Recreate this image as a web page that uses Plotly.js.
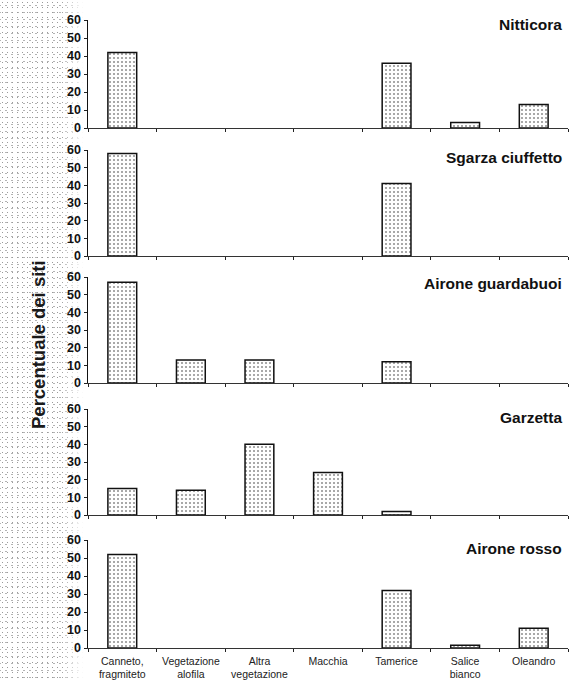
<!DOCTYPE html>
<html>
<head>
<meta charset="utf-8">
<script src="https://cdn.plot.ly/plotly-3.0.1.min.js"></script>
<style>
  html, body { margin: 0; padding: 0; background: #ffffff; }
  #wrap { position: relative; width: 570px; height: 681px; overflow: hidden; }
  #stipple {
    position: absolute; left: 0; top: 0; width: 110px; height: 681px;
    background-image: radial-gradient(circle, #9a9a9a 0.55px, rgba(255,255,255,0) 0.95px),
                      radial-gradient(circle, #b4b4b4 0.5px, rgba(255,255,255,0) 0.9px);
    background-size: 5px 5px, 6px 7px;
    background-position: 0 0, 3px 2px;
    -webkit-mask-image: linear-gradient(to right, #000 0px, #000 60px, rgba(0,0,0,0) 84px);
    mask-image: linear-gradient(to right, #000 0px, #000 60px, rgba(0,0,0,0) 84px);
  }
  #chart { position: absolute; left: 0; top: 0; width: 570px; height: 681px; }
</style>
</head>
<body>
<div id="wrap">
  <div id="stipple"></div>
  <div id="chart"></div>
</div>
<script>
// ---- Data (percentage of sites) ----
const categories = ['Canneto, fragmiteto', 'Vegetazione alofila', 'Altra vegetazione', 'Macchia', 'Tamerice', 'Salice bianco', 'Oleandro'];
const tickLabels = ['Canneto,<br>fragmiteto', 'Vegetazione<br>alofila', 'Altra<br>vegetazione', 'Macchia', 'Tamerice', 'Salice<br>bianco', 'Oleandro'];
const species = ['Nitticora', 'Sgarza ciuffetto', 'Airone guardabuoi', 'Garzetta', 'Airone rosso'];
const nitticora = [42, 0, 0, 0, 36, 3, 13];
const sgarzaCiuffetto = [58, 0, 0, 0, 41, 0, 0];
const aironeGuardabuoi = [57, 13, 13, 0, 12, 0, 0];
const garzetta = [15, 14, 40, 24, 2, 0, 0];
const aironeRosso = [52, 0, 0, 0, 32, 1.5, 11];
const yTicks = [0, 10, 20, 30, 40, 50, 60];
const yTitle = 'Percentuale dei siti';

const seriesList = [nitticora, sgarzaCiuffetto, aironeGuardabuoi, garzetta, aironeRosso];

// ---- Layout geometry (pixels) ----
const W = 570, H = 681;
const panelPx = [[20, 128], [150, 256], [277, 383], [409, 515], [540, 648]]; // [top(60), bottom(0)]
const xLeft = 88, xRight = 568;
const titleY = [25, 157, 283, 417, 548];

const traces = [];
const layout = {
  width: W, height: H,
  margin: {l: 0, r: 0, t: 0, b: 0},
  paper_bgcolor: 'rgba(0,0,0,0)',
  plot_bgcolor: 'rgba(0,0,0,0)',
  showlegend: false,
  font: {family: 'Liberation Sans, Arial, sans-serif', color: '#111'},
  annotations: []
};

seriesList.forEach((vals, i) => {
  const n = i + 1;
  const xa = n === 1 ? 'xaxis' : 'xaxis' + n;
  const ya = n === 1 ? 'yaxis' : 'yaxis' + n;
  traces.push({
    type: 'bar',
    x: categories,
    y: vals,
    xaxis: 'x' + (n === 1 ? '' : n),
    yaxis: 'y' + (n === 1 ? '' : n),
    width: 0.42,
    marker: {
      color: '#ffffff',
      line: {color: '#111', width: vals.map(v => v > 0 ? 1.5 : 0)},
      pattern: {shape: '.', fgcolor: '#8c8c8c', bgcolor: '#ffffff', size: 4, solidity: 0.2}
    },
    hoverinfo: 'x+y'
  });
  const [top, bot] = panelPx[i];
  layout[ya] = {
    domain: [1 - bot / H, 1 - top / H],
    range: [0, 60],
    anchor: 'x' + (n === 1 ? '' : n),
    tickvals: yTicks,
    ticktext: yTicks.map(String),
    ticks: 'outside', ticklen: 3, tickwidth: 1, tickcolor: '#222',
    showline: true, linecolor: '#111', linewidth: 1.5,
    showgrid: false, zeroline: false,
    tickfont: {family: 'Liberation Sans, Arial, sans-serif', size: 12.5, color: '#111', weight: 'bold'},
    fixedrange: true
  };
  layout[xa] = {
    domain: [xLeft / W, xRight / W],
    anchor: 'y' + (n === 1 ? '' : n),
    type: 'category',
    categoryorder: 'array', categoryarray: categories,
    range: [-0.5, 6.5],
    tickvals: categories,
    ticktext: tickLabels,
    tickson: 'boundaries',
    ticks: 'outside', ticklen: 3, tickwidth: 1, tickcolor: '#222',
    ticklabelstandoff: 3,
    showline: true, linecolor: '#333', linewidth: 1,
    showgrid: false, zeroline: false,
    showticklabels: n === 5,
    tickfont: {family: 'Liberation Sans, Arial, sans-serif', size: 10.5, color: '#222'},
    fixedrange: true
  };
  layout.annotations.push({
    xref: 'paper', yref: 'paper',
    x: 564 / W, y: 1 - titleY[i] / H,
    xanchor: 'right', yanchor: 'middle',
    text: '<b>' + species[i] + '</b>',
    showarrow: false,
    font: {family: 'Liberation Sans, Arial, sans-serif', size: 15.5, color: '#111'}
  });
});

layout.annotations.push({
  xref: 'paper', yref: 'paper',
  x: 38 / W, y: 1 - 345 / H,
  xanchor: 'center', yanchor: 'middle',
  textangle: -90,
  text: '<b>' + yTitle + '</b>',
  showarrow: false,
  font: {family: 'Liberation Sans, Arial, sans-serif', size: 18.5, color: '#1a1a1a'}
});

Plotly.newPlot('chart', traces, layout, {staticPlot: true, displayModeBar: false});
</script>
</body>
</html>
